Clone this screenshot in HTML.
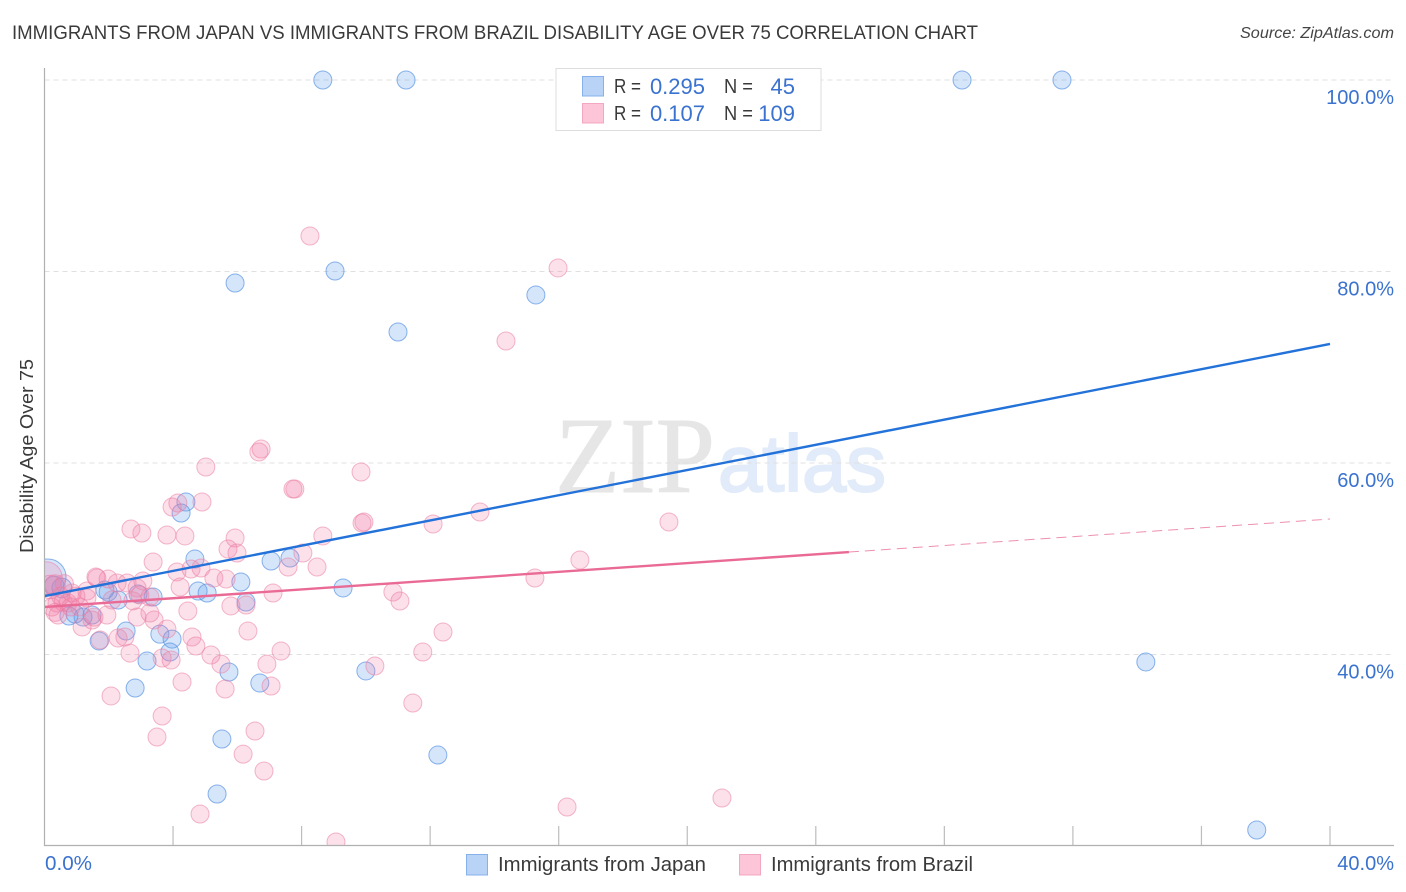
<!DOCTYPE html>
<html>
<head>
<meta charset="utf-8">
<title>Immigrants from Japan vs Immigrants from Brazil Disability Age Over 75 Correlation Chart</title>
<style>
html,body{margin:0;padding:0;background:#fff;width:1406px;height:892px;overflow:hidden;}
svg{display:block;font-family:"Liberation Sans",sans-serif;}
</style>
</head>
<body>
<svg id="chart" width="1406" height="892" viewBox="0 0 1406 892" xmlns="http://www.w3.org/2000/svg">
  <defs>
    <clipPath id="plot-clip"><rect x="45" y="60" width="1350" height="785"></rect></clipPath>
  </defs>
  <text x="12" y="39" font-size="19" fill="#3a3a3a" textLength="966" lengthAdjust="spacingAndGlyphs">IMMIGRANTS FROM JAPAN VS IMMIGRANTS FROM BRAZIL DISABILITY AGE OVER 75 CORRELATION CHART</text>
  <text x="1394" y="38" font-size="15.5" font-style="italic" fill="#444" text-anchor="end" textLength="154" lengthAdjust="spacingAndGlyphs">Source: ZipAtlas.com</text>
  <g>
    <text x="555" y="492" font-family="'Liberation Serif',serif" font-size="108" fill="#e6e6e6" stroke="#e6e6e6" stroke-width="1" textLength="160" lengthAdjust="spacingAndGlyphs">ZIP</text>
    <text x="718" y="491" font-family="'Liberation Sans',sans-serif" font-size="80" fill="#e1ebf9" stroke="#e1ebf9" stroke-width="2" textLength="168" lengthAdjust="spacingAndGlyphs">atlas</text>
  </g>
  <g id="grid"></g>
  <g id="points" clip-path="url(#plot-clip)"></g>
  <g id="trends"></g>
  <g id="axes"></g>
  <text transform="translate(33,456) rotate(-90)" font-size="18" fill="#3a3a3a" text-anchor="middle" textLength="194" lengthAdjust="spacingAndGlyphs">Disability Age Over 75</text>
  <g>
    <rect x="556" y="68.5" width="265" height="62" fill="#fff" stroke="#ddd" stroke-width="1"></rect>
    <rect x="582.5" y="76.5" width="21" height="19.5" fill="#b9d3f7" stroke="#86b1ea"></rect>
    <rect x="582.5" y="103.5" width="21" height="19.5" fill="#fcc5d8" stroke="#f3a8c1"></rect>
    <text x="614" y="93" font-size="20" fill="#3a3a3a" textLength="27" lengthAdjust="spacingAndGlyphs">R =</text>
    <text x="705" y="94" font-size="22" fill="#3a72cf" text-anchor="end">0.295</text>
    <text x="724" y="93" font-size="20" fill="#3a3a3a" textLength="29" lengthAdjust="spacingAndGlyphs">N =</text>
    <text x="795" y="94" font-size="22" fill="#3a72cf" text-anchor="end">45</text>
    <text x="614" y="120" font-size="20" fill="#3a3a3a" textLength="27" lengthAdjust="spacingAndGlyphs">R =</text>
    <text x="705" y="121" font-size="22" fill="#3a72cf" text-anchor="end">0.107</text>
    <text x="724" y="120" font-size="20" fill="#3a3a3a" textLength="29" lengthAdjust="spacingAndGlyphs">N =</text>
    <text x="795" y="121" font-size="22" fill="#3a72cf" text-anchor="end">109</text>
  </g>
  <g>
    <rect x="466.5" y="854.5" width="21" height="20.5" fill="#b9d3f7" stroke="#86b1ea"></rect>
    <text x="498" y="871" font-size="20" fill="#3a3a3a" textLength="208" lengthAdjust="spacingAndGlyphs">Immigrants from Japan</text>
    <rect x="739.5" y="854.5" width="21" height="20.5" fill="#fcc5d8" stroke="#f3a8c1"></rect>
    <text x="771" y="871" font-size="20" fill="#3a3a3a" textLength="202" lengthAdjust="spacingAndGlyphs">Immigrants from Brazil</text>
  </g>
</svg>
<script>
const yTickValues = [100, 80, 60, 40];
const yTickLabels = ["100.0%", "80.0%", "60.0%", "40.0%"];
const xTickValues = [0, 4, 8, 12, 16, 20, 24, 28, 32, 36, 40];
const xEndLabels = ["0.0%", "40.0%"];

const japanX = [8.66,11.25,28.55,31.66,5.93,9.04,15.29,11.0,4.40,4.25,4.68,7.05,7.64,6.11,4.78,5.06,6.27,3.38,2.91,2.29,1.98,1.88,1.48,1.20,0.95,0.76,2.54,3.59,3.97,3.9,1.70,3.19,5.74,6.7,2.82,0.11,0.54,0.30,9.29,10.0,5.52,12.24,5.37,34.27,37.72];
const japanY = [100,100,100,100,78.8,80.05,77.55,73.68,55.93,54.78,49.97,49.76,50.08,47.57,46.63,46.42,45.48,46.0,46.32,45.69,46.52,46.73,44.12,43.91,44.23,44.02,42.45,42.13,41.61,40.26,41.41,39.32,38.17,37.02,36.5,48.1,46.95,47.15,46.95,38.28,31.17,29.5,25.43,39.22,21.67];
const japanWeight = [1,1,1,1,1,1,1,1,1,1,1,1,1,1,1,1,1,1,1,1,1,1,1,1,1,1,1,1,1,1,1,1,1,1,1,4,1.2,1.2,1,1,1,1,1,1,1];

const brazilX = [4.15,3.97,4.9,2.69,3.03,3.81,4.37,5.93,5.71,5.99,3.38,4.12,4.56,4.87,4.22,5.27,5.65,7.11,5.8,6.27,4.46,6.33,4.59,4.71,5.18,5.49,7.36,6.92,5.62,7.05,4.28,2.07,3.94,3.66,3.81,3.41,3.28,2.88,2.66,2.5,2.29,1.73,1.94,1.6,1.63,1.98,2.26,2.57,3.06,2.88,2.97,3.28,1.32,0.86,0.58,0.39,0.23,0.42,0.73,1.1,1.32,2.1,1.48,1.17,0.17,0.33,0.05,8.26,15.98,14.36,6.74,6.67,5.02,9.85,7.79,7.73,9.94,9.88,13.55,19.43,12.09,8.66,3.66,3.5,6.55,6.18,6.83,4.84,9.07,16.26,21.08,11.46,10.28,11.77,12.4,10.84,11.06,7.58,8.04,8.48,16.66,15.26,0.5,0.98,0.33,0.82,1.54,2.75,0.62];
const brazilY = [55.82,55.4,55.93,53.11,52.69,52.48,52.38,52.17,51.02,50.6,49.66,48.62,48.93,49.03,47.05,47.99,47.88,46.42,45.07,45.17,44.54,42.45,41.83,40.89,39.95,39.0,40.36,39.0,36.4,36.71,37.13,35.67,39.42,39.63,42.66,43.6,44.33,43.91,40.15,41.83,41.72,41.51,44.12,48.09,47.99,47.88,47.47,47.47,47.68,46.95,46.21,46.0,46.63,46.42,45.48,45.38,44.96,44.12,45.38,44.96,45.9,45.69,43.6,42.87,47.05,47.26,48.0,83.71,80.37,72.74,61.46,61.15,59.58,59.06,57.28,57.28,53.84,53.73,54.88,53.84,53.63,52.38,33.58,31.38,32.01,29.59,27.83,23.34,20.42,24.07,25.01,34.93,38.8,40.26,42.35,46.53,45.59,49.14,50.6,49.14,49.87,47.99,46.1,46.1,44.4,44.96,43.9,45.6,47.4];
const brazilWeight = [1,1,1,1,1,1,1,1,1,1,1,1,1,1,1,1,1,1,1,1,1,1,1,1,1,1,1,1,1,1,1,1,1,1,1,1,1,1,1,1,1,1,1,1,1,1,1,1,1,1,1,1,1,1,1,1,1,1,1,1,1,1,1,1,1.7,1.3,3.2,1,1,1,1,1,1,1,1,1,1,1,1,1,1,1,1,1,1,1,1,1,1,1,1,1,1,1,1,1,1,1,1,1,1,1,1,1,1,1,1,1,1];

const trendX = [0, 40];
const japanTrendY = [46.1, 72.43];
const brazilSolidX = [0, 25.03];
const brazilSolidY = [44.96, 50.7];
const brazilDashX = [25.03, 40];
const brazilDashY = [50.7, 54.15];

function xScale(v) { return 44.5 + v * (1330 - 44.5) / 40; }
function yScale(v) { return 80 + (100 - v) * (654.5 - 80) / 60; }

const NS = 'http://www.w3.org/2000/svg';
function make(tag, parent, props) {
  const el = document.createElementNS(NS, tag);
  for (const k in props) el.setAttribute(k, props[k]);
  parent.appendChild(el);
  return el;
}

const grid = document.getElementById('grid');
const axes = document.getElementById('axes');
const points = document.getElementById('points');
const trends = document.getElementById('trends');

yTickValues.forEach(function (v, i) {
  const line = make('line', grid, {x1: 44.5, x2: 1394, y1: yScale(v), y2: yScale(v), stroke: '#e0e0e0', 'stroke-width': 1, 'stroke-dasharray': '5 4'});
  
  
  const label = make('text', axes, {x: 1394, y: yScale(v) + 24, 'font-size': 20, fill: '#3a72cf', 'text-anchor': 'end'});
  label.textContent = yTickLabels[i];
  
  
});

xTickValues.slice(1).forEach(function (v) {
  const tick = make('line', axes, {x1: xScale(v), x2: xScale(v), y1: 826, y2: 845, stroke: '#bdbdbd', 'stroke-width': 1.2});
  
  
});

const xAxis = make('line', axes, {x1: 44, x2: 1394, y1: 845.5, y2: 845.5, stroke: '#b0b0b0', 'stroke-width': 1.2});


const yAxis = make('line', axes, {x1: 44.5, x2: 44.5, y1: 68, y2: 846, stroke: '#b0b0b0', 'stroke-width': 1.2});



const xLabelLeft = make('text', axes, {x: 45, y: 870, 'font-size': 20, fill: '#3a72cf', textLength: 47, lengthAdjust: 'spacingAndGlyphs'});
xLabelLeft.textContent = xEndLabels[0];


const xLabelRight = make('text', axes, {x: 1394, y: 870, 'font-size': 20, fill: '#3a72cf', 'text-anchor': 'end'});
xLabelRight.textContent = xEndLabels[1];



japanX.forEach(function (v, i) {
  const c = make('circle', points, {cx: xScale(v), cy: yScale(japanY[i]), r: 9 * Math.sqrt(japanWeight[i]), fill: '#5f9dea', 'fill-opacity': 0.26, stroke: '#5a93e2', 'stroke-opacity': 0.7, 'stroke-width': 1});
  
  
});

brazilX.forEach(function (v, i) {
  const c = make('circle', points, {cx: xScale(v), cy: yScale(brazilY[i]), r: 9 * Math.sqrt(brazilWeight[i]), fill: '#f27ea6', 'fill-opacity': 0.24, stroke: '#ea7ea2', 'stroke-opacity': 0.55, 'stroke-width': 1});
  
  
});

const japanLine = make('line', trends, {x1: xScale(trendX[0]), y1: yScale(japanTrendY[0]), x2: xScale(trendX[1]), y2: yScale(japanTrendY[1]), stroke: '#2372d9', 'stroke-width': 2.4});


const brazilLine = make('line', trends, {x1: xScale(brazilSolidX[0]), y1: yScale(brazilSolidY[0]), x2: xScale(brazilSolidX[1]), y2: yScale(brazilSolidY[1]), stroke: '#ea6a96', 'stroke-width': 2.4});


const brazilDash = make('line', trends, {x1: xScale(brazilDashX[0]), y1: yScale(brazilDashY[0]), x2: xScale(brazilDashX[1]), y2: yScale(brazilDashY[1]), stroke: '#ee8fb0', 'stroke-width': 1, 'stroke-dasharray': '10 6'});


</script>
</body>
</html>
